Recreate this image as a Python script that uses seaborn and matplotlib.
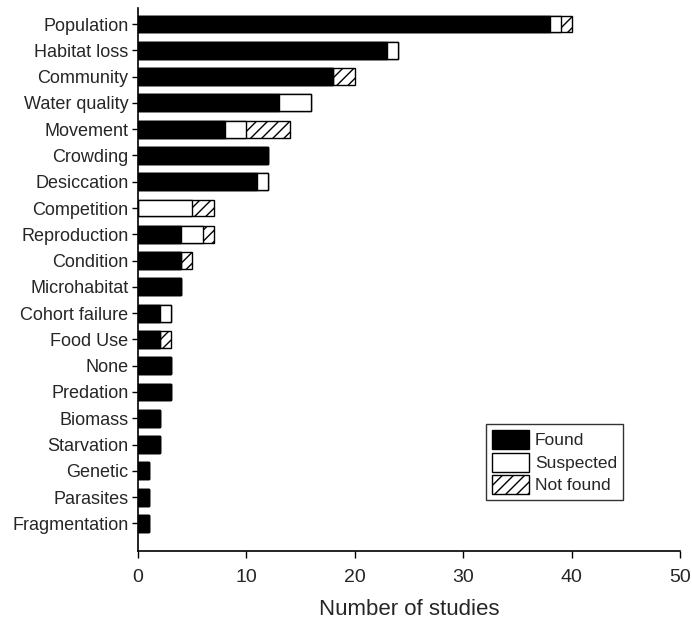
import numpy as np
import pandas as pd
import seaborn as sns
import matplotlib.pyplot as plt
from matplotlib.patches import Patch

# DADOS
categorias = ["Population", "Habitat loss", "Community", "Water quality", "Movement",
              "Crowding", "Desiccation", "Competition", "Reproduction", "Condition",
              "Microhabitat", "Cohort failure", "Food Use", "None", "Predation",
              "Biomass", "Starvation", "Genetic", "Parasites", "Fragmentation"]
found = [38, 23, 18, 13, 8, 12, 11, 0, 4, 4, 4, 2, 2, 3, 3, 2, 2, 1, 1, 1]
suspected = [1, 1, 0, 3, 2, 0, 1, 5, 2, 0, 0, 1, 0, 0, 0, 0, 0, 0, 0, 0]
not_found = [1, 0, 2, 0, 4, 0, 0, 2, 1, 1, 0, 0, 1, 0, 0, 0, 0, 0, 0, 0]

sns.set_theme(style="ticks")
plt.rcParams['font.family'] = ['Liberation Sans', 'DejaVu Sans']

df = pd.DataFrame({"cat": categorias, "found": found,
                   "suspected": suspected, "not_found": not_found})
df["fs"] = df["found"] + df["suspected"]
df["total"] = df["fs"] + df["not_found"]

fig = plt.figure(figsize=(6.92, 6.26), dpi=100)
ax = fig.add_axes([0.1994, 0.1198, 0.7833, 0.867])

plt.rcParams['hatch.linewidth'] = 1.0
kw = dict(y="cat", orient="h", width=0.64, edgecolor="black", linewidth=1, ax=ax)
# empilhado: desenha do total para dentro
sns.barplot(data=df, x="total", color="white", hatch="///", **kw)
sns.barplot(data=df, x="fs", color="white", **kw)
sns.barplot(data=df, x="found", color="black", **kw)

ax.set_xlim(0, 50)
ax.set_ylim(len(categorias) - 1 + 1.05, -0.6)
ax.set_xticks([0, 10, 20, 30, 40, 50])
ax.set_xlabel("Number of studies", fontsize=16, labelpad=9)
ax.set_ylabel("")
ax.tick_params(axis="x", labelsize=14, length=5, width=1, color="black", pad=8)
ax.tick_params(axis="y", labelsize=13, length=4, width=1, color="black", pad=3)
sns.despine(ax=ax)
for s in ["left", "bottom"]:
    ax.spines[s].set_color("black")
    ax.spines[s].set_linewidth(1.2)

handles = [Patch(facecolor="black", edgecolor="black", label="Found"),
           Patch(facecolor="white", edgecolor="black", label="Suspected"),
           Patch(facecolor="white", edgecolor="black", hatch="///", label="Not found")]
leg = ax.legend(handles=handles, loc="lower right", bbox_to_anchor=(0.895, 0.094),
                fontsize=12.5, frameon=True, fancybox=False, handlelength=2.1,
                handleheight=1.3, handletextpad=0.35, labelspacing=0.2,
                borderpad=0.35, borderaxespad=0)
leg.get_frame().set_edgecolor("black")
leg.get_frame().set_linewidth(1)

fig.savefig("out.png", dpi=100)
